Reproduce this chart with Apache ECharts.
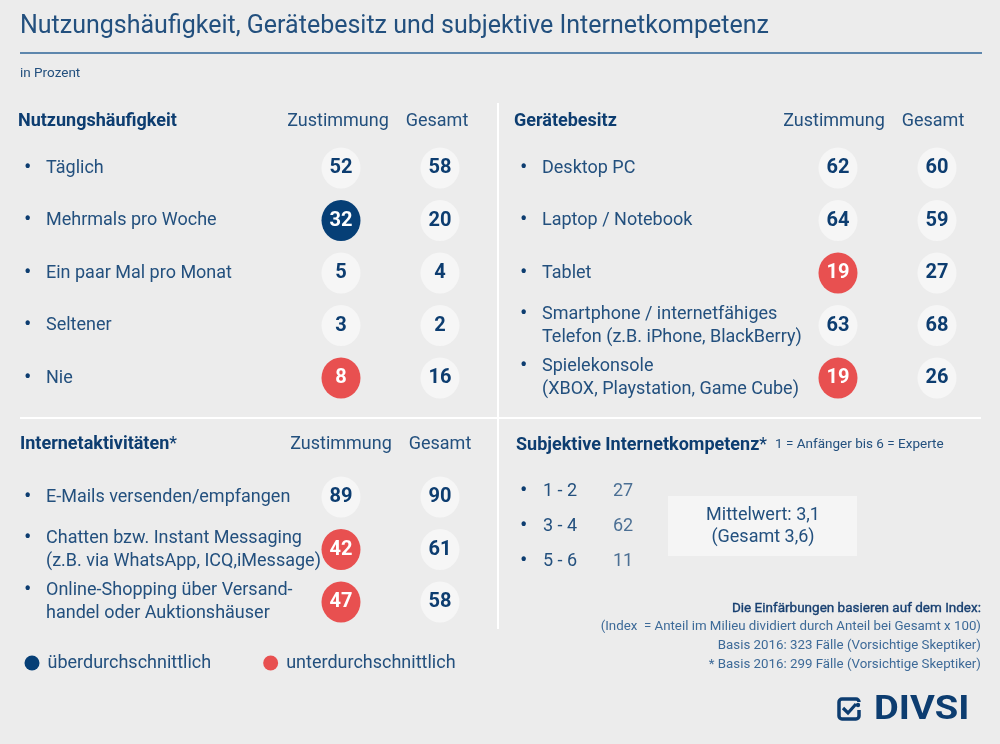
<!DOCTYPE html>
<html>
<head>
<meta charset="utf-8">
<script src="https://cdn.jsdelivr.net/npm/echarts@6/dist/echarts.min.js"></script>
<style>
html,body{margin:0;padding:0;background:#ececec;}
#c{width:1000px;height:744px;}
</style>
</head>
<body>
<div id="c"></div>
<script>
// ---- data ----
const columns = ['Zustimmung', 'Gesamt'];

const nutzungItems = ['Täglich', 'Mehrmals pro Woche', 'Ein paar Mal pro Monat', 'Seltener', 'Nie'];
const nutzungZust = [52, 32, 5, 3, 8];
const nutzungGesamt = [58, 20, 4, 2, 16];
const nutzungMarker = ['', 'ueber', '', '', 'unter'];

const geraeteItems = ['Desktop PC', 'Laptop / Notebook', 'Tablet',
  'Smartphone / internetfähiges\nTelefon (z.B. iPhone, BlackBerry)',
  'Spielekonsole\n(XBOX, Playstation, Game Cube)'];
const geraeteZust = [62, 64, 19, 63, 19];
const geraeteGesamt = [60, 59, 27, 68, 26];
const geraeteMarker = ['', '', 'unter', '', 'unter'];

const aktivItems = ['E-Mails versenden/empfangen',
  'Chatten bzw. Instant Messaging\n(z.B. via WhatsApp, ICQ,iMessage)',
  'Online-Shopping über Versand-\nhandel oder Auktionshäuser'];
const aktivZust = [89, 42, 47];
const aktivGesamt = [90, 61, 58];
const aktivMarker = ['', 'unter', 'unter'];

const kompetenzStufen = ['1 - 2', '3 - 4', '5 - 6'];
const kompetenzWerte = [27, 62, 11];
const mittelwert = '3,1';
const mittelwertGesamt = '3,6';

const legendNames = ['überdurchschnittlich', 'unterdurchschnittlich'];
const footnotes = [
  'Die Einfärbungen basieren auf dem Index:',
  '(Index  = Anteil im Milieu dividiert durch Anteil bei Gesamt x 100)',
  'Basis 2016: 323 Fälle (Vorsichtige Skeptiker)',
  '* Basis 2016: 299 Fälle (Vorsichtige Skeptiker)'
];

// ---- styles ----
const FONT = 'Roboto, "Noto Sans", sans-serif';
const TXT = '#23507e';
const DARK = '#0d3d70';
const COL_UEBER = '#063f76';
const COL_UNTER = '#e85050';
const COL_NEUTRAL = '#f6f6f6';

function colorOf(m) { return m === 'ueber' ? COL_UEBER : (m === 'unter' ? COL_UNTER : COL_NEUTRAL); }
function labelColorOf(m) { return m ? '#ffffff' : DARK; }

function rowLabel(name) {
  const lines = name.split('\n');
  return lines.map((l, i) => (i === 0 ? '{b|•}' : '{s| }') + '{t|' + l + '}').join('\n');
}
function richFor(bw) {
  return {
    b: { fontSize: 22, color: DARK, width: bw, fontFamily: FONT, lineHeight: 23 },
    s: { fontSize: 18, width: bw, fontFamily: FONT, lineHeight: 23 },
    t: { fontSize: 18, color: TXT, fontFamily: FONT, lineHeight: 23 }
  };
}

function circleData(zust, ges, marker) {
  const d = [];
  zust.forEach((v, i) => d.push({ value: [0, i, v], itemStyle: { color: colorOf(marker[i]), opacity: 1 }, label: { color: labelColorOf(marker[i]) } }));
  ges.forEach((v, i) => d.push({ value: [1, i, v], itemStyle: { color: COL_NEUTRAL, opacity: 1 }, label: { color: DARK } }));
  return d;
}

const grids = [
  { left: 291.5, top: 141.75, width: 198, height: 262.5 },
  { left: 788.5, top: 141.75, width: 198, height: 262.5 },
  { left: 291.5, top: 470.75, width: 198, height: 157.5 },
  { left: 603, top: 473.5, width: 40, height: 105 }
];

function xAx(gi, margin, show, dx) {
  return {
    type: 'category', gridIndex: gi, data: show ? columns : ['Wert'], position: 'top',
    axisLine: { show: false }, axisTick: { show: false }, splitLine: { show: false },
    axisLabel: { show: show, interval: 0, margin: margin, verticalAlign: 'middle', fontSize: 18, color: TXT, fontFamily: FONT, padding: [0, dx || 0, 0, 0] }
  };
}
function yAx(gi, items, margin, bw) {
  return {
    type: 'category', gridIndex: gi, data: items, inverse: true,
    axisLine: { show: false }, axisTick: { show: false }, splitLine: { show: false },
    axisLabel: { interval: 0, margin: margin, align: 'left', formatter: rowLabel, rich: richFor(bw), lineHeight: 23 }
  };
}

function circleSeries(gi, zust, ges, marker) {
  return {
    type: 'scatter', xAxisIndex: gi, yAxisIndex: gi, symbol: 'circle', symbolSize: [39, 41],
    silent: true,
    itemStyle: { opacity: 1 },
    data: circleData(zust, ges, marker),
    label: { show: true, position: 'inside', formatter: p => String(p.value[2]), fontSize: 20, fontWeight: 'bold', fontFamily: FONT },
    emphasis: { disabled: true }
  };
}

const option = {
  backgroundColor: '#ececec',
  animation: false,
  grid: grids,
  xAxis: [xAx(0, 20.75, true, 6), xAx(1, 20.75, true, 8), xAx(2, 26.75, true, 0), xAx(3, 10, false)],
  yAxis: [yAx(0, nutzungItems, 267.5, 22), yAx(1, geraeteItems, 268.5, 22), yAx(2, aktivItems, 267.5, 22), yAx(3, kompetenzStufen, 83, 23)],
  legend: {
    left: 24.5, top: 654, padding: 0, icon: 'circle', itemWidth: 15, itemHeight: 15, itemGap: 52,
    selectedMode: false, data: legendNames,
    textStyle: { fontSize: 18, color: TXT, fontFamily: FONT, padding: [0, 0, 0, 3] }
  },
  series: [
    circleSeries(0, nutzungZust, nutzungGesamt, nutzungMarker),
    circleSeries(1, geraeteZust, geraeteGesamt, geraeteMarker),
    circleSeries(2, aktivZust, aktivGesamt, aktivMarker),
    {
      type: 'scatter', xAxisIndex: 3, yAxisIndex: 3, symbolSize: 1, silent: true,
      itemStyle: { color: 'rgba(0,0,0,0)' },
      data: kompetenzWerte.map((v, i) => [0, i, v]),
      label: { show: true, position: 'inside', formatter: p => String(p.value[2]), fontSize: 18, color: TXT, fontFamily: FONT }
    },
    { type: 'scatter', name: legendNames[0], data: [], itemStyle: { color: COL_UEBER, opacity: 1 }, xAxisIndex: 0, yAxisIndex: 0 },
    { type: 'scatter', name: legendNames[1], data: [], itemStyle: { color: COL_UNTER, opacity: 1 }, xAxisIndex: 0, yAxisIndex: 0 }
  ],
  graphic: [
    { type: 'text', left: 20, top: 14, style: { text: 'Nutzungshäufigkeit, Gerätebesitz und subjektive Internetkompetenz', font: '25px ' + FONT, fill: TXT } },
    { type: 'line', shape: { x1: 20, y1: 53, x2: 982, y2: 53 }, style: { stroke: '#2f6699', lineWidth: 1.5 } },
    { type: 'text', x: 20, y: 74, style: { text: 'in Prozent', font: '13.5px ' + FONT, fill: TXT, verticalAlign: 'middle' } },
    // dividers
    { type: 'line', shape: { x1: 498, y1: 103, x2: 498, y2: 629 }, style: { stroke: '#ffffff', lineWidth: 2 } },
    { type: 'line', shape: { x1: 20, y1: 418, x2: 497, y2: 418 }, style: { stroke: '#ffffff', lineWidth: 2 } },
    { type: 'line', shape: { x1: 499, y1: 418, x2: 981, y2: 418 }, style: { stroke: '#ffffff', lineWidth: 2 } },
    // section titles
    { type: 'text', x: 18, y: 121, style: { text: 'Nutzungshäufigkeit', font: 'bold 18px ' + FONT, fill: DARK, verticalAlign: 'middle' } },
    { type: 'text', x: 514, y: 121, style: { text: 'Gerätebesitz', font: 'bold 18px ' + FONT, fill: DARK, verticalAlign: 'middle' } },
    { type: 'text', x: 20, y: 444, style: { text: '{h|Internetaktivitäten}{a|*}', verticalAlign: 'middle', rich: { h: { font: 'bold 18px ' + FONT, fill: DARK }, a: { font: '18px ' + FONT, fill: DARK } } } },
    { type: 'text', x: 516, y: 445, style: { text: '{h|Subjektive Internetkompetenz}{a|*}{n|1 = Anfänger bis 6 = Experte}', verticalAlign: 'middle', rich: { h: { font: 'bold 18px ' + FONT, fill: DARK }, a: { font: '18px ' + FONT, fill: DARK, padding: [0, 8, 0, 0] }, n: { font: '13.5px ' + FONT, fill: TXT } } } },
    // Mittelwert box
    { type: 'rect', shape: { x: 668, y: 496, width: 189, height: 60 }, style: { fill: '#f5f5f5' } },
    { type: 'text', x: 763, y: 526, style: { text: 'Mittelwert: ' + mittelwert + '\n(Gesamt ' + mittelwertGesamt + ')', font: '18px ' + FONT, fill: TXT, align: 'center', verticalAlign: 'middle', lineHeight: 22 } },
    // footnotes
    { type: 'text', x: 981, y: 609, style: { text: footnotes[0], font: '13.5px ' + FONT, fill: '#173f70', align: 'right', verticalAlign: 'middle', stroke: '#173f70', lineWidth: 0.35 } },
    { type: 'text', x: 981, y: 627, style: { text: footnotes[1], font: '13.3px ' + FONT, fill: '#3d6a98', align: 'right', verticalAlign: 'middle' } },
    { type: 'text', x: 981, y: 646, style: { text: footnotes[2], font: '13.3px ' + FONT, fill: '#3d6a98', align: 'right', verticalAlign: 'middle' } },
    { type: 'text', x: 981, y: 665, style: { text: footnotes[3], font: '13.3px ' + FONT, fill: '#3d6a98', align: 'right', verticalAlign: 'middle' } },
    // logo
    { type: 'rect', shape: { x: 839, y: 699, width: 20, height: 20, r: 3 }, style: { fill: 'none', stroke: DARK, lineWidth: 3.5 } },
    { type: 'rect', shape: { x: 855, y: 702, width: 8, height: 8 }, style: { fill: '#ececec' } },
    { type: 'circle', shape: { cx: 858, cy: 705, r: 2.2 }, style: { fill: DARK } },
    { type: 'polyline', shape: { points: [[843, 708], [848, 713], [856, 704]] }, style: { fill: 'none', stroke: DARK, lineWidth: 3.2 } },
    { type: 'text', x: 874, y: 710, scaleX: 1.12, style: { text: 'DIVSI', font: 'bold 34px ' + FONT, fill: DARK, verticalAlign: 'middle' } }
  ]
};

const chart = echarts.init(document.getElementById('c'));
chart.setOption(option);
</script>
</body>
</html>
